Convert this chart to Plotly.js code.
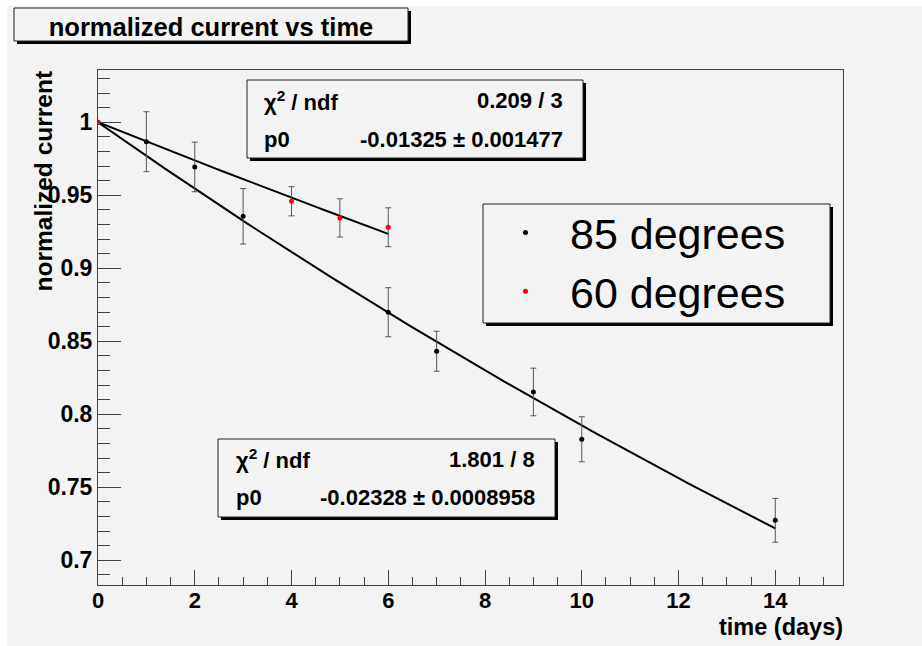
<!DOCTYPE html>
<html><head><meta charset="utf-8">
<script src="https://cdn.plot.ly/plotly-3.0.1.min.js"></script>
<style>html,body{margin:0;padding:0;background:#fff;} #chart{width:922px;height:646px;}</style>
</head><body><div id="chart"></div>
<script>
// ---- data ----
const days85 = [0, 1, 2, 3, 6, 7, 9, 10, 14];
const current85 = [1.0, 0.9867, 0.9694, 0.9356, 0.8699, 0.8432, 0.8153, 0.7829, 0.7274];
const err85 = [0, 0.0205, 0.017, 0.019, 0.0168, 0.0137, 0.0163, 0.0154, 0.015];
const days60 = [0, 4, 5, 6];
const current60 = [1.0, 0.9459, 0.9345, 0.9281];
const err60 = [0, 0.0100, 0.0131, 0.0133];
const p0_85 = -0.02328, p0_85err = '0.0008958', chi2_85 = '1.801 / 8';
const p0_60 = -0.01325, p0_60err = '0.001477', chi2_60 = '0.209 / 3';
const xTickVals = [0, 2, 4, 6, 8, 10, 12, 14];
const xTickText = ['0', '2', '4', '6', '8', '10', '12', '14'];
const yTickVals = [0.7, 0.75, 0.8, 0.85, 0.9, 0.95, 1];
const yTickText = ['0.7', '0.75', '0.8', '0.85', '0.9', '0.95', '1'];
const names = ['85 degrees', '60 degrees'];

// ---- layout helpers (page pixels -> paper coords) ----
const L = 98, R = 843, T = 70, B = 585;
const fx = p => (p - L) / (R - L);
const fy = p => (B - p) / (B - T);
const FONT = 'Liberation Sans, Arial, Helvetica, sans-serif';
const BG = '#f3f3f3';

function fitCurve(xs, p0) {
  const xmax = Math.max(...xs), n = 100, x = [], y = [];
  for (let i = 0; i <= n; i++) { const t = xmax * i / n; x.push(t); y.push(Math.exp(p0 * t)); }
  return {x, y};
}
function pave(x0, y0, x1, y1) {
  return [
    {type:'rect', xref:'paper', yref:'paper', x0:fx(x0+3), x1:fx(x1+3), y0:fy(y1+3), y1:fy(y0+3),
     fillcolor:'#000', line:{width:0}, layer:'above'},
    {type:'rect', xref:'paper', yref:'paper', x0:fx(x0), x1:fx(x1), y0:fy(y1), y1:fy(y0),
     fillcolor:BG, line:{color:'#222', width:1}, layer:'above'}
  ];
}
function txt(text, x, y, xanchor, size, bold) {
  return {text, x:fx(x), y:fy(y), xref:'paper', yref:'paper', xanchor, yanchor:'middle',
          showarrow:false, font:{family:FONT, size, color:'#000', weight: bold ? 'bold' : 'normal'}};
}

const f85 = fitCurve(days85, p0_85), f60 = fitCurve(days60, p0_60);
const traces = [
  {x:f85.x, y:f85.y, mode:'lines', line:{color:'#000', width:2}, showlegend:false, hoverinfo:'skip'},
  {x:f60.x, y:f60.y, mode:'lines', line:{color:'#000', width:2}, showlegend:false, hoverinfo:'skip'},
  {x:days85, y:current85, name:names[0], mode:'markers', marker:{color:'#000', size:5},
   error_y:{type:'data', array:err85, color:'#555', thickness:1, width:3}},
  {x:days60, y:current60, name:names[1], mode:'markers', marker:{color:'#ff0000', size:5},
   error_y:{type:'data', array:err60, color:'#555', thickness:1, width:3}}
];

const shapes = [
  {type:'rect', xref:'paper', yref:'paper', x0:fx(7), x1:fx(922), y0:fy(646), y1:fy(6),
   fillcolor:BG, line:{width:0}, layer:'below'},
  ...pave(14, 8, 408, 41),
  ...pave(247, 80, 583, 158),
  ...pave(218, 439, 555, 517),
  ...pave(483, 204, 830, 323)
];

const annotations = [
  txt('χ<sup>2</sup> / ndf', 262, 100.5, 'left', 22, true),
  txt(chi2_60, 565, 100.5, 'right', 22, true),
  txt('p0', 262, 139, 'left', 22, true),
  txt(p0_60.toFixed(5) + ' ± ' + p0_60err, 565, 139, 'right', 22, true),
  txt('χ<sup>2</sup> / ndf', 234, 459, 'left', 22, true),
  txt(chi2_85, 537, 459, 'right', 22, true),
  txt('p0', 234, 497.5, 'left', 22, true),
  txt(p0_85.toFixed(5) + ' ± ' + p0_85err, 537, 497.5, 'right', 22, true),
  txt('time (days)', 845, 627, 'right', 23.5, true),
  Object.assign(txt('normalized current', 43, 69, 'center', 24.5, true), {textangle:-90, yanchor:'top'})
];

const axisCommon = {showgrid:false, zeroline:false, showline:true, linecolor:'#444', linewidth:1,
  mirror:true, ticks:'inside', tickcolor:'#444', tickwidth:1, tickmode:'array', fixedrange:true};

const layout = {
  width:922, height:646,
  margin:{l:L, r:922-R, t:T, b:646-B, pad:0},
  paper_bgcolor:'#fff', plot_bgcolor:'rgba(0,0,0,0)',
  title:{text:'normalized current vs time', x:211/922, xref:'container', xanchor:'center',
         y:1-27/646, yref:'container', yanchor:'middle',
         font:{family:FONT, size:25.5, color:'#000', weight:'bold'}},
  xaxis:Object.assign({}, axisCommon, {range:[0, 15.4], tickvals:xTickVals, ticktext:xTickText, ticklen:15,
    ticklabelstandoff:-4,
    minor:{dtick:0.5, tick0:0, ticks:'inside', ticklen:8, tickcolor:'#444', showgrid:false},
    tickfont:{family:FONT, size:22, color:'#000', weight:'bold'}}),
  yaxis:Object.assign({}, axisCommon, {range:[0.6831, 1.0358], tickvals:yTickVals, ticktext:yTickText, ticklen:23,
    minor:{dtick:0.01, tick0:0, ticks:'inside', ticklen:12, tickcolor:'#444', showgrid:false},
    tickfont:{family:FONT, size:23, color:'#000', weight:'bold'}}),
  showlegend:true,
  legend:{x:fx(481), xanchor:'left', y:fy(198), yanchor:'top', bgcolor:'rgba(0,0,0,0)', borderwidth:0,
          itemwidth:79, font:{family:FONT, size:43, color:'#000'}},
  shapes, annotations
};
Plotly.newPlot('chart', traces, layout, {displayModeBar:false, staticPlot:true});
</script></body></html>
